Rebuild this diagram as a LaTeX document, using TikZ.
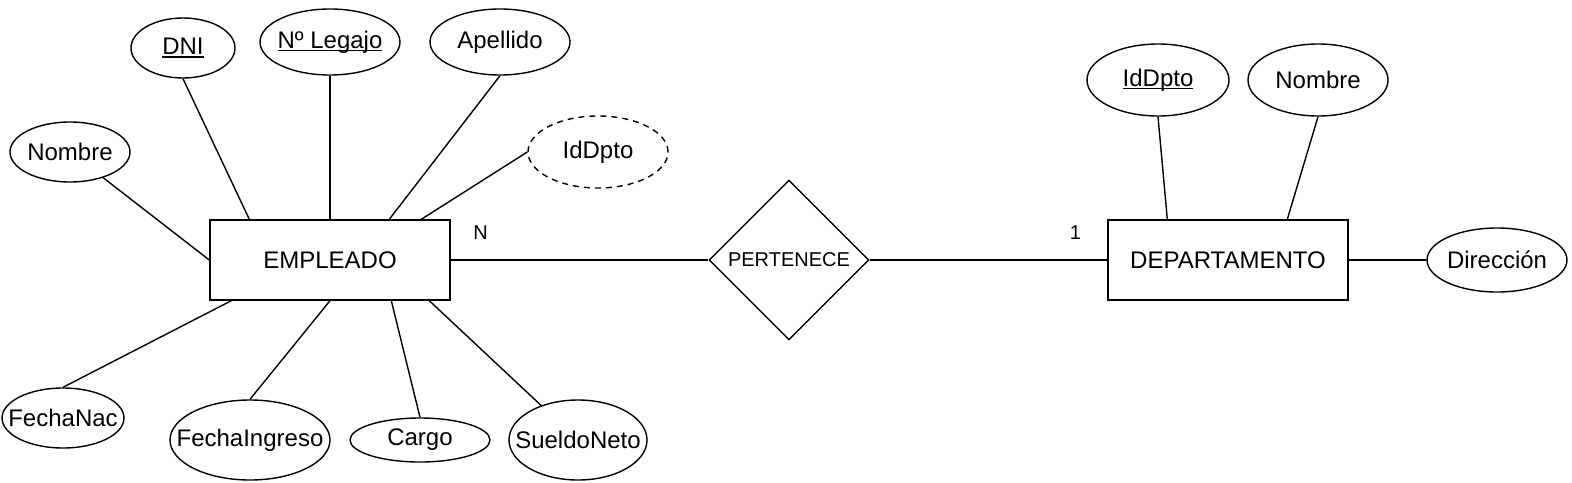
\documentclass[tikz,border=0pt]{standalone}
\usepackage{fontspec}
\setmainfont{Liberation Sans}
\usetikzlibrary{shapes.geometric, positioning}

% subrayado pegado a la linea base (clave primaria)
\newcommand{\clave}[1]{\setbox0\hbox{#1}\rlap{\rule[-1.4pt]{\wd0}{0.6pt}}\box0}

\begin{document}
\begin{tikzpicture}[
		x=0.5pt, y=-0.5pt,
		font=\fontsize{12}{14}\selectfont,
		line width=0.7pt,
		entity/.style={
			draw,
			minimum width=120pt,
			minimum height=40pt,
			inner sep=0pt
		},
		attr/.style={draw,ellipse,inner xsep=-10pt,inner ysep=0pt},
		weakattr/.style={attr,dash pattern=on 3pt off 2.5pt},
		rel/.style={draw,diamond,aspect=1,inner sep=0pt,minimum width=80pt,minimum height=80pt,font=\fontsize{10}{12}\selectfont},
		card/.style={font=\fontsize{10}{12}\selectfont}
	]
	\useasboundingbox (0,0) rectangle (1572,482);
	
	\node[entity] (empleado) at (330,260) {EMPLEADO};
	\node[rel] (pertenece) at (789,260) {PERTENECE};
	\node[entity] (departamento) at (1228,260) {DEPARTAMENTO};
	
	% atributos de EMPLEADO
	\node[attr,minimum width=60pt,minimum height=30pt] (nombreE) at (70,152) {Nombre};
	\node[attr,minimum width=52pt,minimum height=30pt] (dni) at (183,48) {\clave{DNI}};
	\node[attr,minimum width=70pt,minimum height=33pt] (legajo) at (330,42) {\clave{Nº Legajo}};
	\node[attr,minimum width=70pt,minimum height=33pt] (apellido) at (500,42) {Apellido};
	\node[weakattr,minimum width=70pt,minimum height=36pt] (idDptoE) at (598,152) {IdDpto};
	\node[attr,minimum width=61pt,minimum height=30pt] (fechaNac) at (63,418) {FechaNac};
	\node[attr,minimum width=80pt,minimum height=40pt] (fechaIngreso) at (250,440) {FechaIngreso};
	\node[attr,minimum width=70pt,minimum height=22pt] (cargo) at (420,440) {Cargo};
	\node[attr,minimum width=69pt,minimum height=40pt] (sueldoNeto) at (578,440) {SueldoNeto};
	
	% atributos de DEPARTAMENTO
	\node[attr,minimum width=71pt,minimum height=36pt] (idDptoD) at (1158,80) {\clave{IdDpto}};
	\node[attr,minimum width=70pt,minimum height=36pt] (nombreD) at (1318,80) {Nombre};
	\node[attr,minimum width=70pt,minimum height=32pt] (direccion) at (1497,260) {Dirección};
	
	\draw (nombreE) -- (empleado.west);
	\draw (dni.south) -- ([xshift=20pt]empleado.north west);
	\draw (legajo) -- (empleado);
	\draw (apellido.south) -- ([xshift=90pt]empleado.north west);
	\draw (idDptoE.west) -- ([xshift=106pt]empleado.north west);
	\draw (fechaNac.north) -- ([xshift=11pt]empleado.south west);
	\draw (fechaIngreso.north) -- (empleado.south);
	\draw (cargo.north) -- ([xshift=91pt]empleado.south west);
	\draw (sueldoNeto) -- ([xshift=110pt]empleado.south west);
	
	\draw (empleado.east) -- node[card,at start,xshift=15pt,yshift=13.5pt]{N} (pertenece.west);
	\draw (pertenece.east) -- node[card,at end,xshift=-16pt,yshift=13.5pt]{1} (departamento.west);
	
	\draw (idDptoD.south) -- ([xshift=30pt]departamento.north west);
	\draw (nombreD.south) -- ([xshift=90pt]departamento.north west);
	\draw (departamento.east) -- (direccion.west);
	
\end{tikzpicture}
\end{document}
